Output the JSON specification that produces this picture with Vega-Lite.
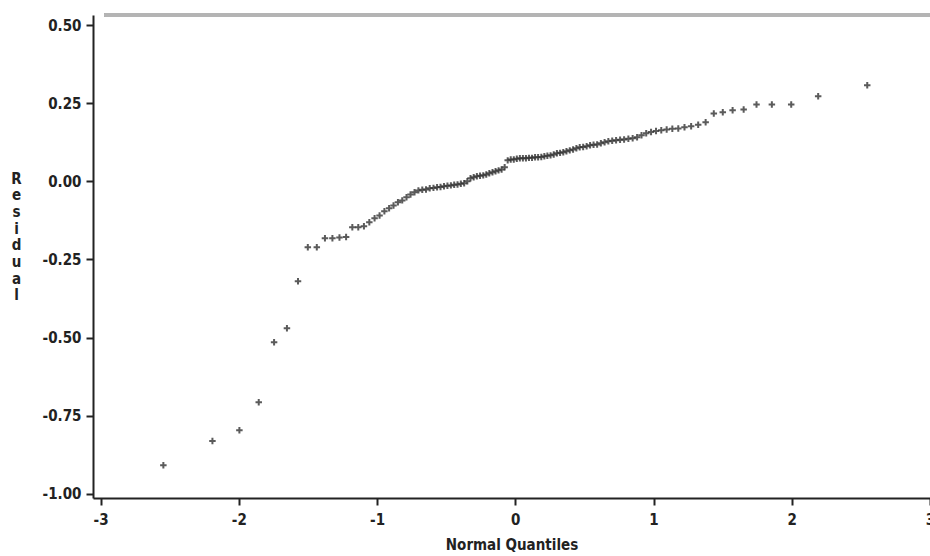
{
  "$schema": "https://vega.github.io/schema/vega-lite/v6.json",
  "autosize": {"type": "none"},
  "padding": {"left": 93, "top": 15, "right": 0, "bottom": 58},
  "width": 837,
  "height": 483,
  "background": "white",
  "config": {
    "view": {"stroke": null},
    "font": "DejaVu Sans Condensed",
    "locale": {"number": {"decimal": ".", "thousands": ",", "grouping": [3], "currency": ["$", ""], "minus": "-"}},
    "axis": {
      "grid": false,
      "domainColor": "#222",
      "domainWidth": 2,
      "tickColor": "#222",
      "tickWidth": 2,
      "tickSize": 7,
      "labelFont": "DejaVu Sans Condensed",
      "labelFontSize": 15,
      "labelFontWeight": "bold",
      "labelColor": "#222",
      "titleFont": "DejaVu Sans Condensed",
      "titleFontSize": 15,
      "titleFontWeight": "bold",
      "titleColor": "#222"
    }
  },
  "data": {"values": [
    {"q": -2.546, "r": -0.908}, {"q": -2.191, "r": -0.831}, {"q": -1.996, "r": -0.796}, {"q": -1.856, "r": -0.707},
    {"q": -1.745, "r": -0.515}, {"q": -1.652, "r": -0.470}, {"q": -1.572, "r": -0.320}, {"q": -1.501, "r": -0.211},
    {"q": -1.436, "r": -0.211}, {"q": -1.377, "r": -0.182}, {"q": -1.323, "r": -0.182}, {"q": -1.272, "r": -0.180},
    {"q": -1.224, "r": -0.178}, {"q": -1.179, "r": -0.147}, {"q": -1.136, "r": -0.147}, {"q": -1.095, "r": -0.144},
    {"q": -1.056, "r": -0.131}, {"q": -1.018, "r": -0.118}, {"q": -0.982, "r": -0.109}, {"q": -0.947, "r": -0.096},
    {"q": -0.913, "r": -0.086}, {"q": -0.881, "r": -0.077}, {"q": -0.849, "r": -0.067}, {"q": -0.818, "r": -0.061},
    {"q": -0.787, "r": -0.051}, {"q": -0.758, "r": -0.042}, {"q": -0.729, "r": -0.035}, {"q": -0.701, "r": -0.029},
    {"q": -0.673, "r": -0.027}, {"q": -0.646, "r": -0.026}, {"q": -0.619, "r": -0.022}, {"q": -0.592, "r": -0.021},
    {"q": -0.566, "r": -0.019}, {"q": -0.541, "r": -0.018}, {"q": -0.516, "r": -0.016}, {"q": -0.491, "r": -0.014},
    {"q": -0.466, "r": -0.013}, {"q": -0.442, "r": -0.011}, {"q": -0.418, "r": -0.010}, {"q": -0.394, "r": -0.008},
    {"q": -0.370, "r": -0.006}, {"q": -0.347, "r": 0.000}, {"q": -0.324, "r": 0.010}, {"q": -0.301, "r": 0.013},
    {"q": -0.278, "r": 0.016}, {"q": -0.255, "r": 0.018}, {"q": -0.232, "r": 0.019}, {"q": -0.210, "r": 0.022},
    {"q": -0.188, "r": 0.026}, {"q": -0.165, "r": 0.029}, {"q": -0.143, "r": 0.032}, {"q": -0.121, "r": 0.035},
    {"q": -0.099, "r": 0.038}, {"q": -0.077, "r": 0.045}, {"q": -0.055, "r": 0.067}, {"q": -0.033, "r": 0.070},
    {"q": -0.011, "r": 0.070}, {"q": 0.011, "r": 0.072}, {"q": 0.033, "r": 0.074}, {"q": 0.055, "r": 0.074},
    {"q": 0.077, "r": 0.074}, {"q": 0.099, "r": 0.075}, {"q": 0.121, "r": 0.075}, {"q": 0.143, "r": 0.077},
    {"q": 0.165, "r": 0.077}, {"q": 0.188, "r": 0.078}, {"q": 0.210, "r": 0.080}, {"q": 0.232, "r": 0.082},
    {"q": 0.255, "r": 0.083}, {"q": 0.278, "r": 0.086}, {"q": 0.301, "r": 0.090}, {"q": 0.324, "r": 0.091},
    {"q": 0.347, "r": 0.093}, {"q": 0.370, "r": 0.096}, {"q": 0.394, "r": 0.099}, {"q": 0.418, "r": 0.102},
    {"q": 0.442, "r": 0.106}, {"q": 0.466, "r": 0.109}, {"q": 0.491, "r": 0.110}, {"q": 0.516, "r": 0.112},
    {"q": 0.541, "r": 0.115}, {"q": 0.566, "r": 0.117}, {"q": 0.592, "r": 0.118}, {"q": 0.619, "r": 0.122},
    {"q": 0.646, "r": 0.125}, {"q": 0.673, "r": 0.128}, {"q": 0.701, "r": 0.130}, {"q": 0.729, "r": 0.131},
    {"q": 0.758, "r": 0.133}, {"q": 0.787, "r": 0.134}, {"q": 0.818, "r": 0.136}, {"q": 0.849, "r": 0.138},
    {"q": 0.881, "r": 0.141}, {"q": 0.913, "r": 0.147}, {"q": 0.947, "r": 0.154}, {"q": 0.982, "r": 0.158},
    {"q": 1.018, "r": 0.161}, {"q": 1.056, "r": 0.163}, {"q": 1.095, "r": 0.166}, {"q": 1.136, "r": 0.168},
    {"q": 1.179, "r": 0.169}, {"q": 1.224, "r": 0.173}, {"q": 1.272, "r": 0.176}, {"q": 1.323, "r": 0.181},
    {"q": 1.377, "r": 0.189}, {"q": 1.436, "r": 0.217}, {"q": 1.501, "r": 0.221}, {"q": 1.572, "r": 0.227},
    {"q": 1.652, "r": 0.230}, {"q": 1.745, "r": 0.246}, {"q": 1.856, "r": 0.246}, {"q": 1.996, "r": 0.246},
    {"q": 2.191, "r": 0.272}, {"q": 2.546, "r": 0.307}
  ]},
  "layer": [
    {
      "mark": {"type": "rule", "color": "#b4b4b4", "strokeWidth": 2.5, "clip": false},
      "encoding": {
        "y": {"datum": 0.532, "type": "quantitative"},
        "x": {"datum": -2.97, "type": "quantitative"},
        "x2": {"datum": 3.0}
      }
    },
    {
      "mark": {"type": "point", "shape": "M-1,0L1,0M0,-1L0,1", "size": 42, "filled": false, "color": "#333", "strokeWidth": 2, "opacity": 0.8},
      "encoding": {
        "x": {
          "field": "q", "type": "quantitative",
          "scale": {"domain": [-3.055, 3.0], "nice": false, "zero": false},
          "axis": {"values": [-3, -2, -1, 0, 1, 2, 3], "format": "d", "title": "Normal Quantiles", "labelPadding": 7, "titlePadding": 10, "labelFlush": false, "labelOverlap": false}
        },
        "y": {
          "field": "r", "type": "quantitative",
          "scale": {"domain": [-1.013, 0.532], "nice": false, "zero": false},
          "axis": {
            "values": [-1, -0.75, -0.5, -0.25, 0, 0.25, 0.5],
            "format": ".2f",
            "labelPadding": 5,
            "title": ["R", "e", "s", "i", "d", "u", "a", "l"],
            "titleAngle": 0,
            "titleAlign": "center",
            "titleBaseline": "top",
            "titleLineHeight": 16.7,
            "titleX": -77,
            "titleY": 156,
            "labelFlush": false,
            "labelOverlap": false
          }
        }
      }
    }
  ]
}
